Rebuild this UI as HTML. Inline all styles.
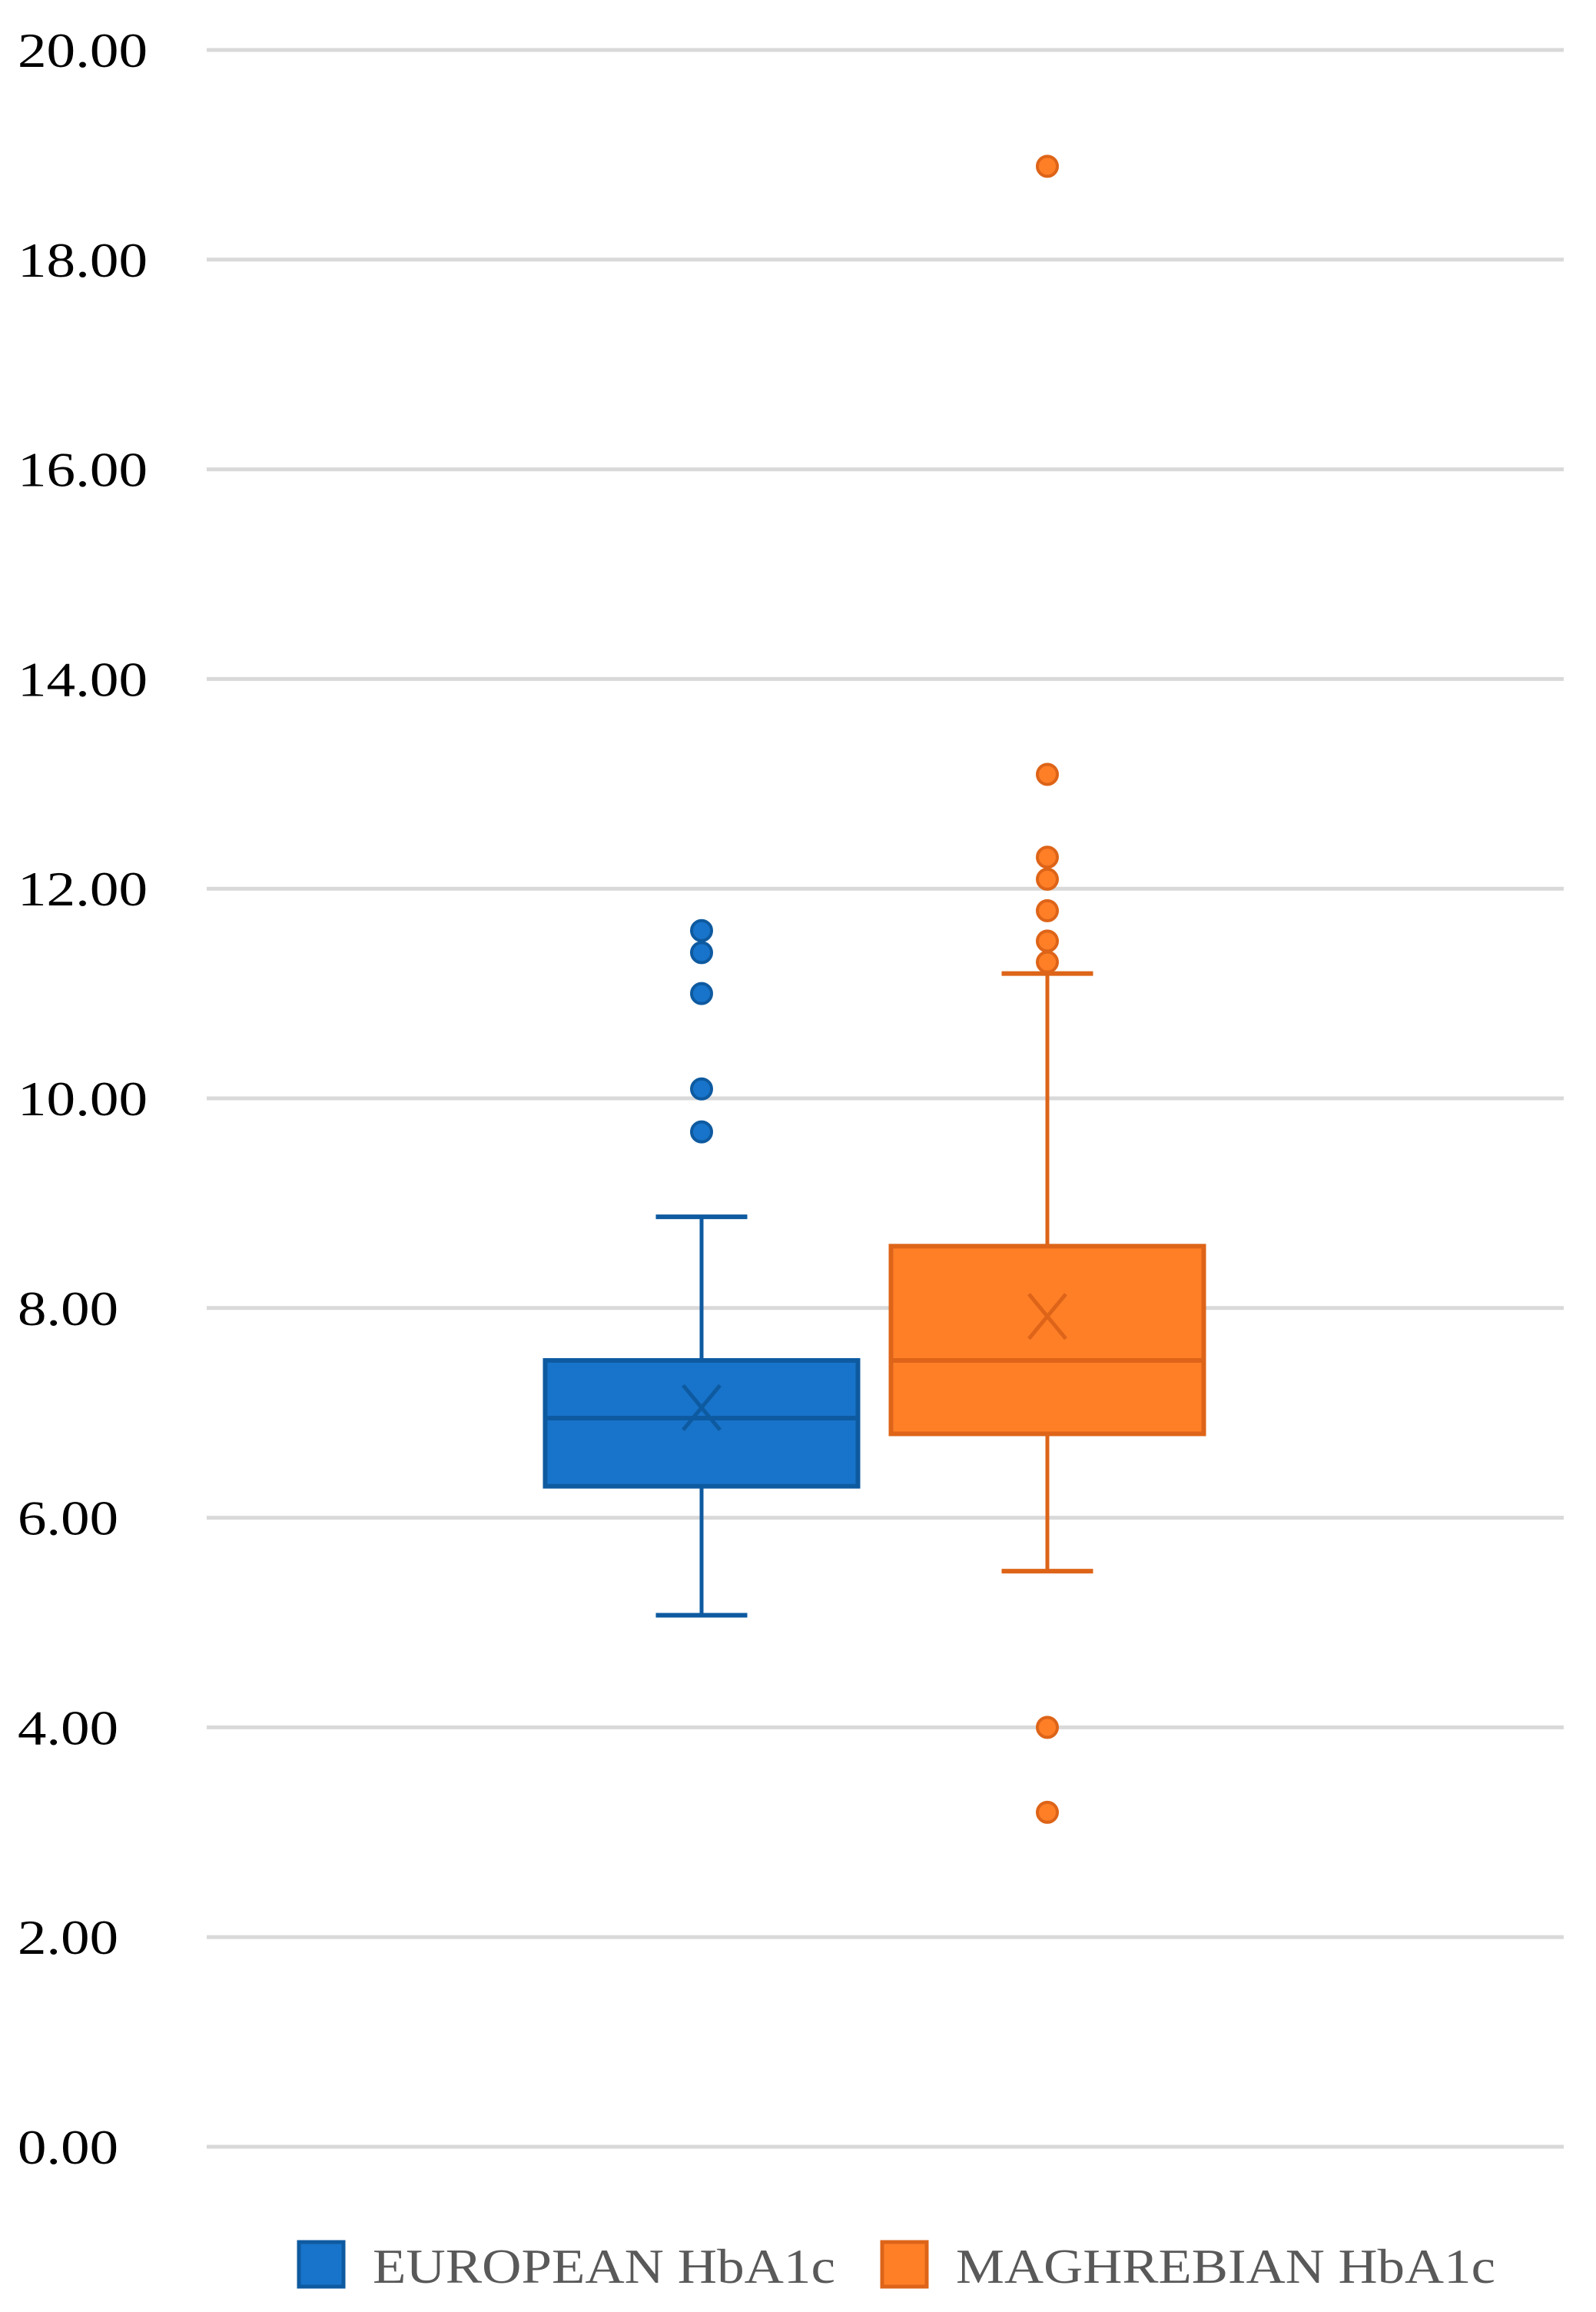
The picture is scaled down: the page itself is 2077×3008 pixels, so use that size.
<!DOCTYPE html>
<html><head><meta charset="utf-8"><style>
html,body{margin:0;padding:0;background:#fff;}
svg{display:block;}
text{font-family:"Liberation Serif",serif;}
</style></head><body>
<svg id="chart" width="2077" height="3008" viewBox="0 0 2077 3008" xmlns="http://www.w3.org/2000/svg">
<g id="grid"></g>
<g id="ylabels"></g>
<g id="boxes"></g>
<g id="legend">
  <rect x="389" y="2917" width="58" height="58" fill="#1874CA" stroke="#0E5AA0" stroke-width="5"/>
  <text x="485" y="2970" font-size="64" fill="#595959" textLength="602" lengthAdjust="spacingAndGlyphs">EUROPEAN HbA1c</text>
  <rect x="1148" y="2917" width="58" height="58" fill="#FF7F27" stroke="#DD6418" stroke-width="5"/>
  <text x="1244" y="2970" font-size="64" fill="#595959" textLength="702" lengthAdjust="spacingAndGlyphs">MAGHREBIAN HbA1c</text>
</g>
</svg>
<script>
const ticks = [0,2,4,6,8,10,12,14,16,18,20];
const tickLabels = ["0.00","2.00","4.00","6.00","8.00","10.00","12.00","14.00","16.00","18.00","20.00"];
const categories = ["EUROPEAN HbA1c","MAGHREBIAN HbA1c"];
const q1 = [6.3, 6.8];
const median = [6.95, 7.5];
const q3 = [7.5, 8.59];
const mean = [7.05, 7.92];
const whiskerLow = [5.07, 5.49];
const whiskerHigh = [8.87, 11.19];
const outliersEuropean = [11.6, 11.39, 11.0, 10.09, 9.68];
const outliersMaghrebian = [18.89, 13.09, 12.3, 12.09, 11.79, 11.5, 11.3, 4.0, 3.19];

const NS = "http://www.w3.org/2000/svg";
const plotL = 269, plotR = 2035, y0 = 2793, y20 = 65;
function yScale(v){ return y0 - (v/20)*(y0-y20); }
const centers = [913, 1363];
const boxW = 407, capW = 119;
const fills = ["#1874CA","#FF7F27"], strokes = ["#0E5AA0","#DD6418"];
const outliers = [outliersEuropean, outliersMaghrebian];

function mk(tag, attrs, parent){
  const e = document.createElementNS(NS, tag);
  for (const k in attrs) e.setAttribute(k, attrs[k]);
  parent.appendChild(e); return e;
}
const grid = document.getElementById('grid'), yl = document.getElementById('ylabels'), bx = document.getElementById('boxes');
ticks.forEach((t,i)=>{
  const y = yScale(t);
  const l = mk('line',{x1:plotL,x2:plotR,y1:y,y2:y,stroke:'#D9D9D9','stroke-width':5},grid);
  
  
  const w = tickLabels[i].length === 5 ? 169 : 131;
  const tx = mk('text',{x:23,y:y+22,'font-size':64,fill:'#000',textLength:w,lengthAdjust:'spacingAndGlyphs'},yl);
  tx.textContent = tickLabels[i];
  
  
});
categories.forEach((c,i)=>{
  const cx = centers[i], s = strokes[i], sw = 5;
  const g = mk('g',{},bx);
  
  
  mk('line',{x1:cx,x2:cx,y1:yScale(whiskerHigh[i]),y2:yScale(q3[i]),stroke:s,'stroke-width':sw},g);
  mk('line',{x1:cx,x2:cx,y1:yScale(q1[i]),y2:yScale(whiskerLow[i]),stroke:s,'stroke-width':sw},g);
  mk('line',{x1:cx-capW/2,x2:cx+capW/2,y1:yScale(whiskerHigh[i]),y2:yScale(whiskerHigh[i]),stroke:s,'stroke-width':6},g);
  mk('line',{x1:cx-capW/2,x2:cx+capW/2,y1:yScale(whiskerLow[i]),y2:yScale(whiskerLow[i]),stroke:s,'stroke-width':6},g);
  mk('rect',{x:cx-boxW/2,y:yScale(q3[i]),width:boxW,height:yScale(q1[i])-yScale(q3[i]),fill:fills[i],stroke:s,'stroke-width':6},g);
  mk('line',{x1:cx-boxW/2,x2:cx+boxW/2,y1:yScale(median[i]),y2:yScale(median[i]),stroke:s,'stroke-width':6},g);
  const my = yScale(mean[i]);
  mk('path',{d:`M${cx-24} ${my-29}L${cx+24} ${my+29}M${cx+24} ${my-29}L${cx-24} ${my+29}`,stroke:s,'stroke-width':5,fill:'none'},g);
  outliers[i].forEach(v=>{
    const d = mk('circle',{cx:cx,cy:yScale(v),r:13,fill:fills[i],stroke:s,'stroke-width':4},g);
    
    
  });
});
</script>
</body></html>
